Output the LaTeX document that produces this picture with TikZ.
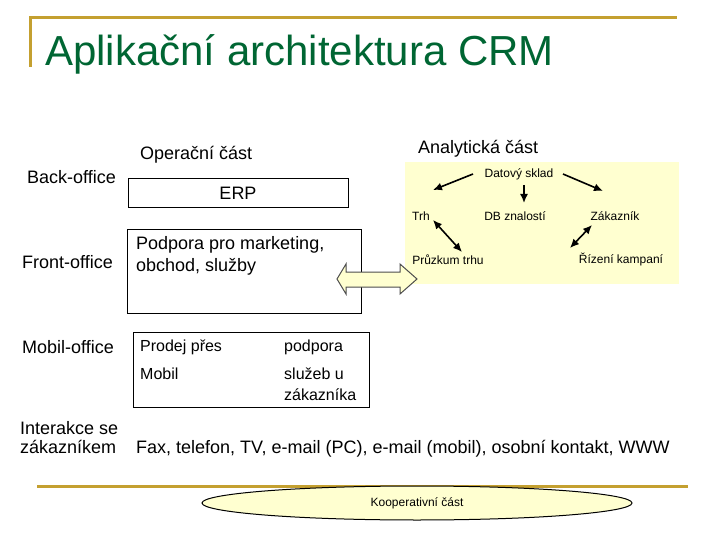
\documentclass[tikz,border=0pt]{standalone}
\usepackage{fontspec}
\setmainfont{Liberation Sans}
\usetikzlibrary{shapes.geometric,arrows.meta,positioning}
\definecolor{titlegreen}{RGB}{0,102,51}
\definecolor{rulegold}{RGB}{196,160,48}
\definecolor{paleyellow}{RGB}{255,255,208}

\begin{document}
\begin{tikzpicture}[
      x=1pt, y=-1pt,
      font=\fontsize{18}{21}\selectfont,
      lbl/.style={
        anchor=west,
        inner sep=0pt,
        align=left
      },
      small/.style={
        inner sep=0pt,
        font=\fontsize{12}{14}\selectfont
      },
      mid/.style={
        lbl,
        font=\fontsize{16}{21}\selectfont
      },
      box/.style={
        draw=black,
        line width=1pt,
        inner sep=0pt
      },
      rule/.style={draw=rulegold, line width=3pt},
      arr/.style={-{Latex[length=9pt,width=8pt]}, line width=1.6pt},
      twoarr/.style={{Latex[length=9pt,width=8pt]}-{Latex[length=9pt,width=8pt]}, line width=1.6pt},
      blockarrow/.style={draw=black!70, fill=paleyellow, line width=1pt, line join=miter}
    ]
    \useasboundingbox (0,0) rectangle (720,540);
    \draw[rule] (30,67) -- (30,18) -- (677,18);
    \draw[rule] (37,486) -- (688,486);
    
    \node[anchor=base west, inner sep=0pt, text=titlegreen, font=\fontsize{42}{48}\selectfont] (title) at (45,66)
    {Aplikační architektura CRM};
    
    \node[lbl] (operacni) at (140,155) {Operační část};
    \node[lbl] (analyticka) at (418,149) {Analytická část};
    
    \node[lbl] (back) at (27,177) {Back-office};
    \node[lbl] (front) at (22,262) {Front-office};
    \node[lbl] (mobiloffice) at (22,347) {Mobil-office};
    \node[lbl, font=\fontsize{18}{19}\selectfont] (interakce) at (20,437.5)
    {Interakce se\\zákazníkem};
    \node[lbl] (kanaly) at (136,449)
    {Fax, telefon, TV, e-mail (PC), e-mail (mobil), osobní kontakt, WWW};
    
    \node[box, minimum width=220, minimum height=29] (erp) at (238,193.5) {ERP};
    
    \node[box, minimum width=234, minimum height=83] (frontbox) at (244,271.5) {};
    \node[lbl, font=\fontsize{18}{22}\selectfont] (podpora) at (136,256)
    {Podpora pro marketing,\\obchod, služby};
    
    \node[box, minimum width=236, minimum height=75] (mobilbox) at (251,369.5) {};
    \node[mid] (prodej) at (140,347) {Prodej přes};
    \node[mid] (mobil) at (140,374) {Mobil};
    \node[mid] (podporamob) at (284,347) {podpora};
    \node[mid] (sluzeb) at (284,384.5) {služeb u\\zákazníka};
    
    \node[fill=paleyellow, inner sep=0pt, minimum width=274, minimum height=122] (analbox) at (542,223) {};
    \node[small] (sklad) at (519,174) {Datový sklad};
    \node[small] (trh) at (421,216) {Trh};
    \node[small] (db) at (515,216) {DB znalostí};
    \node[small] (zakaznik) at (615,216) {Zákazník};
    \node[small] (pruzkum) at (448,260) {Průzkum trhu};
    \node[small] (rizeni) at (621,260) {Řízení kampaní};
    
    \draw[arr] ([xshift=-46pt]sklad.center) -- ([xshift=12pt,yshift=26pt]trh.center);
    \draw[arr] ([xshift=44pt]sklad.center) -- ([xshift=-12pt,yshift=25pt]zakaznik.center);
    \draw[arr] ([xshift=5pt,yshift=-11pt]sklad.center) -- ([xshift=9pt,yshift=13pt]db.center);
    \draw[twoarr] ([xshift=12pt,yshift=-4pt]trh.center) -- ([xshift=14pt,yshift=8pt]pruzkum.center);
    \draw[twoarr] ([xshift=-23pt,yshift=-9pt]zakaznik.center) -- ([xshift=-51pt,yshift=12pt]rizeni.center);
    
    \draw[blockarrow] (337,279) -- (346,264) -- (346,272) -- (400,272) -- (400,264) -- (417,279)
      -- (400,294) -- (400,287) -- (346,287) -- (346,294) -- cycle;
    
    \node[small, draw=black, line width=1pt, fill=paleyellow, ellipse, minimum width=430, minimum height=34] (koop) at (417,503)
    {\raisebox{-4pt}{Kooperativní část}};
    \end{tikzpicture}
\end{document}
